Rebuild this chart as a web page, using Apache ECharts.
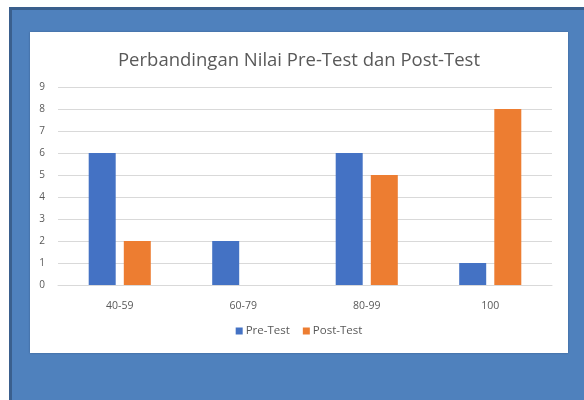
<!DOCTYPE html>
<html>
<head>
<meta charset="utf-8">
<script src="https://cdn.jsdelivr.net/npm/echarts@6/dist/echarts.min.js"></script>
<style>
  body { margin: 0; background: #fff; width: 584px; height: 400px; overflow: hidden; position: relative; }
  #frame { position: absolute; left: 9px; top: 7px; right: 0; bottom: 0; background: #4f81bd;
           border-left: 3px solid #3a5f8d; border-top: 3px solid #3a5f8d; }
  #main { position: absolute; left: 30px; top: 32px; width: 538px; height: 321px; background: #fff;
          box-shadow: 0 0 2px rgba(0,0,0,0.25); }
</style>
</head>
<body>
<div id="frame"></div>
<div id="main"></div>
<script>
var categories = ['40-59', '60-79', '80-99', '100'];
var preTest = [6, 2, 6, 1];
var postTest = [2, 0, 5, 8];
var yTicks = [0, 9, 1];

var myChart = echarts.init(document.getElementById('main'));
myChart.setOption({
    animation: false,
    textStyle: { fontFamily: 'Open Sans' },
    title: {
        text: 'Perbandingan Nilai Pre-Test dan Post-Test',
        left: 'center',
        top: 14,
        textStyle: { fontFamily: 'Open Sans', fontSize: 18.5, fontWeight: 'normal', color: '#595959' }
    },
    legend: {
        bottom: 11,
        left: 'center',
        itemWidth: 7,
        itemHeight: 7,
        itemGap: 13,
        icon: 'rect',
        textStyle: { fontSize: 11.5, color: '#595959', padding: [0, 0, 0, -2] }
    },
    grid: { left: 28, right: 16, top: 55, bottom: 68 },
    xAxis: {
        type: 'category',
        data: categories,
        axisLine: { lineStyle: { color: '#d9d9d9' } },
        axisTick: { show: false },
        axisLabel: { color: '#595959', fontSize: 10.5, margin: 16 }
    },
    yAxis: {
        type: 'value',
        min: yTicks[0],
        max: yTicks[1],
        interval: yTicks[2],
        axisLine: { show: false },
        axisTick: { show: false },
        axisLabel: { color: '#595959', fontSize: 10, margin: 13 },
        splitLine: { lineStyle: { color: '#d9d9d9' } }
    },
    series: [
        {
            name: 'Pre-Test',
            type: 'bar',
            data: preTest,
            barWidth: 27,
            barGap: '30%',
            itemStyle: { color: '#4472c4' }
        },
        {
            name: 'Post-Test',
            type: 'bar',
            data: postTest,
            barWidth: 27,
            itemStyle: { color: '#ed7d31' }
        }
    ]
});
</script>
</body>
</html>
